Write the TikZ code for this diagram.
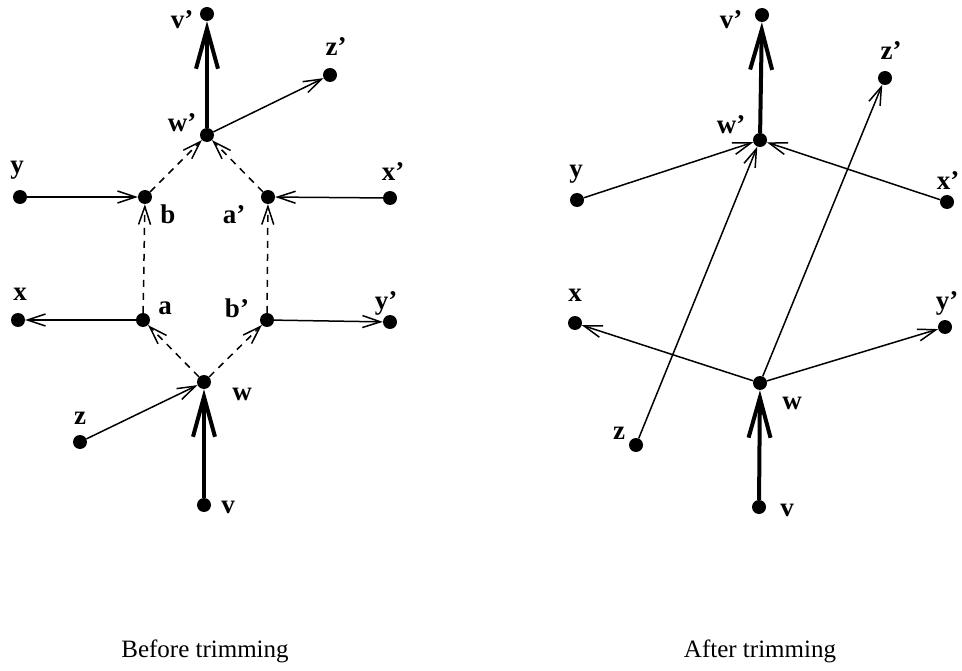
\documentclass[tikz,border=0pt]{standalone}
\usepackage{fontspec}
\setmainfont{Liberation Serif}
\usetikzlibrary{arrows.meta}
\begin{document}
\begin{tikzpicture}[x=1pt,y=-1pt,
  dot/.style={circle,fill=black,inner sep=0pt,minimum size=14pt},
  lbl/.style={font=\fontsize{27}{30}\selectfont\bfseries,inner sep=0pt},
  captxt/.style={font=\fontsize{25}{28}\selectfont,inner sep=0pt},
  thinarr/.style={line width=1.5pt,-{Straight Barb[length=18pt,width=12pt,line width=1.5pt]}},
  thickarr/.style={line width=4pt,-{Straight Barb[length=40pt,width=22pt,line width=4pt]}},
  dasharr/.style={thinarr,dash pattern=on 7pt off 6pt},
]
\useasboundingbox (0,0) rectangle (962,671);
% ---------- Left diagram ----------
\node[dot] (Lvp) at (207,14) {};
\node[dot] (Lzp) at (330,75) {};
\node[dot] (Lwp) at (207,135) {};
\node[dot] (Ly) at (20,197) {};
\node[dot] (Lb) at (145,197) {};
\node[dot] (Lap) at (268,197) {};
\node[dot] (Lxp) at (390,198) {};
\node[dot] (Lx) at (18,320) {};
\node[dot] (La) at (143,320) {};
\node[dot] (Lbp) at (267,320) {};
\node[dot] (Lyp) at (390,322) {};
\node[dot] (Lw) at (204,382) {};
\node[dot] (Lz) at (80,442) {};
\node[dot] (Lv) at (204,505) {};
\node[lbl] (tLvp) at (182,20) {v'};
\node[lbl] (tLzp) at (336,47) {z'};
\node[lbl] (tLwp) at (182,123) {w'};
\node[lbl] (tLy) at (17,170) {y};
\node[lbl] (tLb) at (168,214) {b};
\node[lbl] (tLap) at (234,215) {a'};
\node[lbl] (tLxp) at (393,172) {x'};
\node[lbl] (tLx) at (20,294) {x};
\node[lbl] (tLa) at (165,308) {a};
\node[lbl] (tLbp) at (237,308) {b'};
\node[lbl] (tLyp) at (386,303) {y'};
\node[lbl] (tLw) at (242,394) {w};
\node[lbl] (tLz) at (80,418) {z};
\node[lbl] (tLv) at (228,507) {v};
\draw[thickarr] (Lwp) -- (Lvp);
\draw[thickarr] (Lv) -- (Lw);
\draw[thinarr] (Lwp) -- (Lzp);
\draw[thinarr] (Ly) -- (Lb);
\draw[thinarr] (Lxp) -- (Lap);
\draw[thinarr] (La) -- (Lx);
\draw[thinarr] (Lbp) -- (Lyp);
\draw[thinarr] (Lz) -- (Lw);
\draw[dasharr] (Lb) -- (Lwp);
\draw[dasharr] (Lap) -- (Lwp);
\draw[dasharr] (La) -- (Lb);
\draw[dasharr] (Lbp) -- (Lap);
\draw[dasharr] (Lw) -- (La);
\draw[dasharr] (Lw) -- (Lbp);
% ---------- Right diagram ----------
\node[dot] (Rvp) at (762,15) {};
\node[dot] (Rzp) at (885,78) {};
\node[dot] (Rwp) at (760,140) {};
\node[dot] (Ry) at (577,200) {};
\node[dot] (Rxp) at (947,202) {};
\node[dot] (Rx) at (575,323) {};
\node[dot] (Ryp) at (945,327) {};
\node[dot] (Rw) at (760,383) {};
\node[dot] (Rz) at (636,445) {};
\node[dot] (Rv) at (759,507) {};
\node[lbl] (tRvp) at (731,20) {v'};
\node[lbl] (tRzp) at (891,51) {z'};
\node[lbl] (tRwp) at (731,125) {w'};
\node[lbl] (tRy) at (576,174) {y};
\node[lbl] (tRxp) at (948,181) {x'};
\node[lbl] (tRx) at (575,295) {x};
\node[lbl] (tRyp) at (947,303) {y'};
\node[lbl] (tRw) at (792,403) {w};
\node[lbl] (tRz) at (619,433) {z};
\node[lbl] (tRv) at (787,510) {v};
\draw[thickarr] (Rwp) -- (Rvp);
\draw[thickarr] (Rv) -- (Rw);
\draw[thinarr] (Ry) -- (Rwp);
\draw[thinarr] (Rxp) -- (Rwp);
\draw[thinarr] (Rz) -- (Rwp);
\draw[thinarr] (Rw) -- (Rzp);
\draw[thinarr] (Rw) -- (Rx);
\draw[thinarr] (Rw) -- (Ryp);
% ---------- Captions ----------
\node[captxt] (capL) at (205,651) {Before trimming};
\node[captxt] (capR) at (760,651) {After trimming};
\end{tikzpicture}
\end{document}
